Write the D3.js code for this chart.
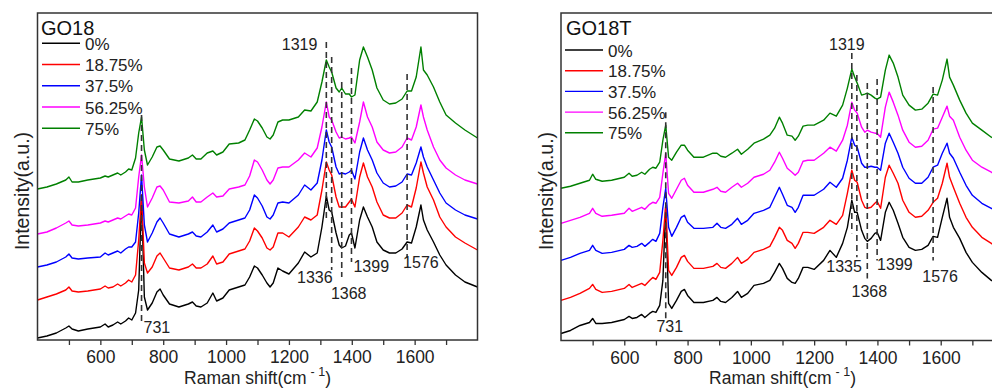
<!DOCTYPE html>
<html>
<head>
<meta charset="utf-8">
<script src="https://cdnjs.cloudflare.com/ajax/libs/d3/7.8.5/d3.min.js"></script>
<style>
  body { margin: 0; background: #fff; }
  svg { display: block; font-family: "Liberation Sans", Arial, sans-serif; }
</style>
</head>
<body>
<svg id="chart" width="992" height="388"></svg>
<script>
// Raman shift (cm-1) sample points, shared by every spectrum
const wavenumbers = [400,430,460,490,500,510,530,560,600,615,
  625,640,655,665,680,690,700,712,722,731,
  740,750,765,780,790,800,820,850,880,893,
  905,920,940,958,970,990,1010,1040,1060,1075,
  1090,1100,1115,1130,1140,1150,1165,1180,1200,1230,
  1250,1270,1290,1305,1319,1328,1336,1350,1360,1368,
  1380,1392,1399,1410,1425,1437,1450,1465,1480,1500,
  1520,1540,1560,1576,1590,1605,1620,1628,1640,1660,
  1680,1700,1730,1760,1800];

const concentrations = ['0%', '18.75%', '37.5%', '56.25%', '75%'];
const seriesColors = ['#000000', '#ff0000', '#0000ff', '#ff00ff', '#008000'];

// GO18 intensities (a.u., stacked as in the figure)
const go18_0 = [2,4,7,12,14,11,9,11,13,16,
  13,15,18,16,19,22,20,27,50,145,
  43,30,37,48,51,45,36,33,36,38,
  34,33,37,47,39,42,50,53,55,63,
  74,72,65,57,53,57,72,69,66,77,
  88,83,87,113,144,130,128,107,95,92,
  94,105,107,92,120,133,123,113,98,90,
  87,87,91,98,97,113,135,120,110,98,
  85,75,65,58,53];
const go18_1875 = [40,43,46,50,53,49,48,49,51,54,
  52,53,56,54,57,60,58,65,100,145,
  77,67,73,84,87,82,72,70,73,76,
  72,72,76,84,76,78,86,89,91,99,
  112,109,102,92,90,93,107,107,103,113,
  123,120,125,150,178,170,165,143,133,133,
  133,138,141,133,163,177,163,153,138,125,
  122,122,127,135,133,152,178,167,153,140,
  123,113,103,97,90];
const go18_375 = [73,75,78,83,86,82,81,82,83,87,
  85,87,89,87,91,93,93,98,127,165,
  115,98,107,118,122,117,106,103,106,108,
  104,103,108,115,108,111,117,120,122,130,
  145,142,134,123,121,125,137,138,137,145,
  155,150,157,180,210,198,193,173,166,167,
  166,168,170,161,188,202,190,180,167,157,
  153,154,158,166,165,177,193,183,173,160,
  147,137,130,125,121];
const go18_5625 = [106,108,112,117,119,115,114,115,117,119,
  118,120,122,121,124,126,125,132,163,185,
  153,133,142,153,154,150,138,137,139,143,
  138,138,143,147,143,144,151,153,155,164,
  180,178,170,160,156,160,172,173,173,180,
  187,183,192,213,238,223,220,208,202,203,
  201,202,203,197,218,238,223,213,198,190,
  187,188,193,202,200,213,235,223,210,193,
  180,172,165,160,156];
const go18_75 = [151,153,156,160,163,158,158,160,162,164,
  163,165,167,165,168,171,170,182,207,223,
  190,175,183,193,194,190,181,179,182,185,
  181,181,187,189,185,188,196,197,200,210,
  221,219,212,203,201,205,218,220,220,223,
  230,229,238,258,280,273,268,252,248,252,
  246,246,243,245,280,293,283,270,252,240,
  236,237,241,249,249,263,293,270,265,253,
  238,225,217,210,202];

// GO18T intensities
const go18t_0 = [7,10,15,18,22,17,17,18,21,24,
  22,23,26,23,27,29,28,35,60,135,
  37,32,40,49,51,45,38,38,40,43,
  39,38,43,49,43,47,55,57,60,68,
  77,72,62,58,57,62,73,73,71,80,
  90,83,97,113,140,128,128,110,102,99,
  102,107,108,100,128,138,130,117,103,93,
  90,91,95,104,103,123,142,123,113,102,
  88,78,68,60,53];
const go18t_1875 = [40,43,47,52,56,51,48,49,52,56,
  53,55,57,55,60,63,61,68,100,135,
  70,65,73,83,85,79,72,72,74,77,
  73,72,77,83,77,81,88,91,94,103,
  113,110,100,97,92,97,108,108,107,113,
  120,116,125,147,170,160,158,140,133,132,
  133,137,139,132,163,175,167,157,140,128,
  123,124,130,138,142,157,177,163,153,137,
  123,113,103,97,88];
const go18t_375 = [80,83,87,90,95,90,87,88,91,95,
  93,94,97,94,98,101,99,107,133,152,
  113,104,113,123,125,118,112,112,113,117,
  113,112,116,122,116,120,127,130,133,143,
  153,146,135,133,128,133,145,145,145,151,
  158,153,162,180,203,195,193,177,173,173,
  174,173,173,170,197,207,198,187,173,162,
  157,157,163,173,175,187,197,187,182,168,
  155,145,137,132,125];
const go18t_5625 = [117,120,123,127,132,127,124,125,127,132,
  129,131,133,131,136,138,137,143,167,187,
  147,142,151,160,162,155,148,148,151,153,
  149,148,153,157,153,157,163,166,170,178,
  188,182,172,168,165,168,179,180,180,187,
  193,189,200,215,238,230,227,213,208,210,
  208,207,207,203,233,248,238,225,210,198,
  193,194,200,211,212,223,234,224,220,203,
  190,180,173,168,160];
const go18t_75 = [152,154,157,160,166,161,159,160,163,167,
  164,165,168,166,171,173,172,178,200,215,
  183,180,188,195,195,190,183,183,187,187,
  184,183,187,191,186,191,197,201,205,212,
  223,217,205,204,200,204,214,215,215,220,
  227,224,235,252,271,263,257,245,246,247,
  245,242,241,243,270,285,277,263,245,235,
  230,231,237,246,245,260,281,263,255,240,
  227,217,210,203,198];

// Axis ticks
const xMajorTicks = [600, 800, 1000, 1200, 1400, 1600];
const xMinorTicks = [500, 700, 900, 1100, 1300, 1500, 1700];

// Marked bands: position, label, dashed line span (a.u.)
const go18Bands = [731, 1319, 1336, 1368, 1399, 1576];
const go18BandLabels = ['731', '1319', '1336', '1368', '1399', '1576'];
const go18BandTop = [225, 298, 283, 258, 272, 266];
const go18BandBottom = [15, 118, 70, 63, 78, 82];

const go18tBands = [731, 1319, 1335, 1368, 1399, 1576];
const go18tBandLabels = ['731', '1319', '1335', '1368', '1399', '1576'];
const go18tBandTop = [228, 287, 265, 257, 261, 253];
const go18tBandBottom = [20, 107, 83, 62, 80, 80];


class SpectraPanel {

  /**
   * One stacked Raman panel
   * @param {Object}
   * @param {Array}
   */
  constructor(_config, _data) {
    this.config = {
      parentElement: _config.parentElement,
      left: _config.left,
      top: _config.top,
      width: _config.width,
      height: _config.height,
      title: _config.title,
      legend: _config.legend,
      yLabelX: _config.yLabelX || -9,
      bands: _config.bands || [],
      labelLayout: _config.labelLayout || []
    }
    this.data = _data;
    this.initVis();
  }

  initVis() {
    let vis = this;

    vis.svg = d3.select(vis.config.parentElement);
    vis.chart = vis.svg.append('g')
        .attr('transform', `translate(${vis.config.left},${vis.config.top})`);

    vis.xScale = d3.scaleLinear()
        .domain([400, 1800])
        .range([0, vis.config.width]);

    vis.yScale = d3.scaleLinear()
        .domain([0, 327])
        .range([vis.config.height, 0]);

    // bottom axis, minor + major ticks, labels only on the majors
    vis.xAxis = d3.axisBottom(vis.xScale)
        .tickValues(xMinorTicks.concat(xMajorTicks).sort((a, b) => a - b))
        .tickSize(5)
        .tickPadding(6)
        .tickFormat(d => xMajorTicks.includes(d) ? d : '');

    vis.xAxisG = vis.chart.append('g')
        .attr('transform', `translate(0,${vis.config.height})`)
        .call(vis.xAxis);
    vis.xAxisG.select('.domain').remove();
    vis.xAxisG.selectAll('line').attr('stroke', '#333').attr('stroke-width', 1.3);
    vis.xAxisG.selectAll('text')
        .attr('fill', '#222')
        .style('font-size', '17.5px')
        .style('font-family', '"Liberation Sans", Arial, sans-serif');

    // axis titles
    const xTitle = vis.chart.append('text')
        .attr('x', vis.config.width / 2)
        .attr('y', 371)
        .attr('text-anchor', 'middle')
        .attr('fill', '#222')
        .style('font-size', '17.5px');
    xTitle.append('tspan').text('Raman shift(cm');
    xTitle.append('tspan').attr('dx', 4).attr('dy', -8).style('font-size', '12.5px').text('- 1');
    xTitle.append('tspan').attr('dy', 8).text(')');

    vis.chart.append('text')
        .attr('transform', `translate(${vis.config.yLabelX},178) rotate(-90)`)
        .attr('text-anchor', 'middle')
        .attr('fill', '#222')
        .style('font-size', '19.5px')
        .text('Intensity(a.u.)');

    vis.line = d3.line()
        .x(d => vis.xScale(d[0]))
        .y(d => vis.yScale(d[1]));

    vis.updateVis();
  }

  updateVis() {
    let vis = this;
    vis.series = vis.data.map(s => ({
      label: s.label,
      color: s.color,
      points: wavenumbers.map((w, i) => [w, s.values[i]])
    }));
    vis.renderVis();
  }

  renderVis() {
    let vis = this;

    vis.chart.selectAll('.spectrum')
        .data(vis.series)
      .join('path')
        .attr('class', 'spectrum')
        .attr('fill', 'none')
        .attr('stroke', d => d.color)
        .attr('stroke-width', 1.4)
        .attr('stroke-linejoin', 'round')
        .attr('d', d => vis.line(d.points));

    // dashed band markers
    vis.chart.selectAll('.band')
        .data(vis.config.bands)
      .join('line')
        .attr('class', 'band')
        .attr('x1', d => vis.xScale(d.wn))
        .attr('x2', d => vis.xScale(d.wn))
        .attr('y1', d => vis.yScale(d.top))
        .attr('y2', d => vis.yScale(d.bottom))
        .attr('stroke', '#333')
        .attr('stroke-width', 1.6)
        .attr('stroke-dasharray', '6,4');

    vis.chart.selectAll('.band-label')
        .data(vis.config.bands)
      .join('text')
        .attr('class', 'band-label')
        .attr('x', (d, i) => vis.xScale(d.wn) + vis.config.labelLayout[i].dx)
        .attr('y', (d, i) => {
          const l = vis.config.labelLayout[i];
          return vis.yScale(l.at === 'top' ? d.top : d.bottom) + l.dy;
        })
        .attr('text-anchor', (d, i) => vis.config.labelLayout[i].anchor)
        .attr('fill', '#222')
        .style('font-size', '16px')
        .text(d => d.label);

    // frame drawn last so it sits over the curve ends
    vis.chart.append('rect')
        .attr('width', vis.config.width)
        .attr('height', vis.config.height)
        .attr('fill', 'none')
        .attr('stroke', '#333')
        .attr('stroke-width', 1.5);

    vis.renderLegend();
  }

  renderLegend() {
    let vis = this;
    const lg = vis.config.legend;

    vis.chart.append('text')
        .attr('x', lg.titleX)
        .attr('y', 22)
        .attr('fill', '#111')
        .style('font-size', '20px')
        .text(vis.config.title);

    const rows = vis.chart.selectAll('.legend-row')
        .data(vis.series)
      .join('g')
        .attr('class', 'legend-row')
        .attr('transform', (d, i) => `translate(${lg.x},${lg.y + i * lg.step})`);

    rows.append('line')
        .attr('x1', 0)
        .attr('x2', 38)
        .attr('stroke', d => d.color)
        .attr('stroke-width', 1.4);

    rows.append('text')
        .attr('x', 43)
        .attr('y', 6.5)
        .attr('fill', '#222')
        .style('font-size', '17px')
        .text(d => d.label);
  }
}


const makeSeries = arrays => arrays.map((values, i) => ({
  label: concentrations[i],
  color: seriesColors[i],
  values: values
}));

const makeBands = (pos, labels, top, bottom) => pos.map((wn, i) => ({
  wn: wn, label: labels[i], top: top[i], bottom: bottom[i]
}));

new SpectraPanel({
  parentElement: '#chart',
  left: 37.5, top: 13, width: 440, height: 327,
  title: 'GO18',
  legend: {titleX: 3.5, x: 4.5, y: 30.3, step: 21.25},
  yLabelX: -9,
  bands: makeBands(go18Bands, go18BandLabels, go18BandTop, go18BandBottom),
  labelLayout: [
    {at: 'bottom', anchor: 'start', dx: 2, dy: 8},
    {at: 'top', anchor: 'end', dx: -9, dy: 8},
    {at: 'bottom', anchor: 'end', dx: 1, dy: 13},
    {at: 'bottom', anchor: 'middle', dx: 7, dy: 22},
    {at: 'bottom', anchor: 'start', dx: 2, dy: 10},
    {at: 'bottom', anchor: 'start', dx: -4, dy: 10}
  ]
}, makeSeries([go18_0, go18_1875, go18_375, go18_5625, go18_75]));

new SpectraPanel({
  parentElement: '#chart',
  left: 561, top: 13, width: 443, height: 327.5,
  title: 'GO18T',
  legend: {titleX: 5, x: 4, y: 37, step: 20.7},
  yLabelX: -8,
  bands: makeBands(go18tBands, go18tBandLabels, go18tBandTop, go18tBandBottom),
  labelLayout: [
    {at: 'bottom', anchor: 'middle', dx: 4, dy: 12},
    {at: 'top', anchor: 'middle', dx: -5, dy: -3},
    {at: 'bottom', anchor: 'end', dx: 5, dy: 15},
    {at: 'bottom', anchor: 'middle', dx: 2, dy: 19},
    {at: 'bottom', anchor: 'start', dx: 0, dy: 10},
    {at: 'bottom', anchor: 'middle', dx: 7, dy: 22}
  ]
}, makeSeries([go18t_0, go18t_1875, go18t_375, go18t_5625, go18t_75]));
</script>
</body>
</html>
